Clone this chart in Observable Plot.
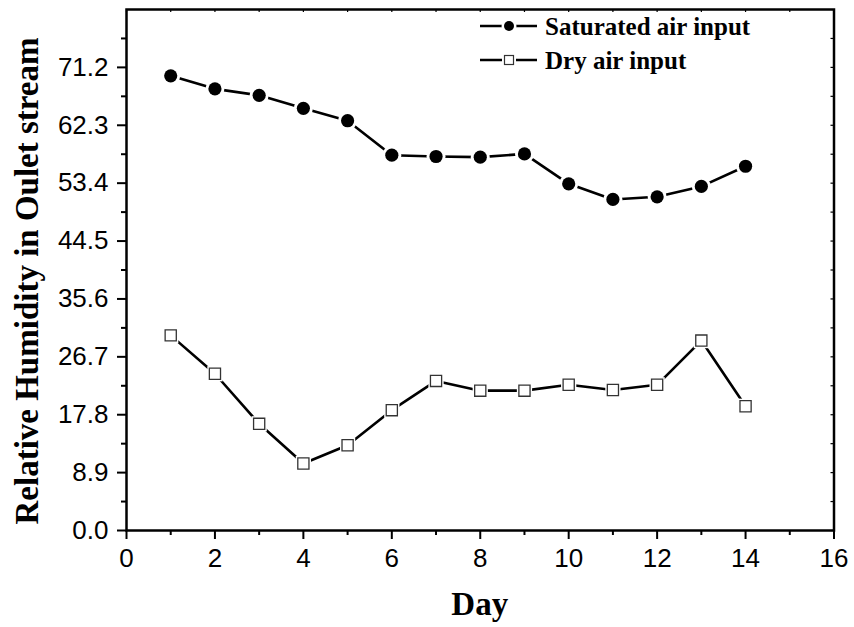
<!DOCTYPE html>
<html>
<head>
<meta charset="utf-8">
<script src="https://cdn.jsdelivr.net/npm/d3@7"></script>
<script src="https://cdn.jsdelivr.net/npm/@observablehq/plot@0.6"></script>
<style>
  body { margin: 0; background: #fff; }
  #chart svg { display: block; }
</style>
</head>
<body>
<div id="chart"></div>
<script>
// Relative humidity of the outlet stream over a 14-day run
const days = [1, 2, 3, 4, 5, 6, 7, 8, 9, 10, 11, 12, 13, 14];
const saturated = [69.9, 67.9, 66.9, 64.9, 63.0, 57.7, 57.5, 57.4, 57.9, 53.3, 50.9, 51.3, 52.9, 56.0];
const dry = [30.0, 24.1, 16.4, 10.3, 13.1, 18.5, 23.0, 21.5, 21.5, 22.4, 21.6, 22.4, 29.2, 19.1];
const seriesNames = ["Saturated air input", "Dry air input"];

// Axis ticks
const xTicks = [0, 2, 4, 6, 8, 10, 12, 14, 16];
const xMinor = [1, 3, 5, 7, 9, 11, 13, 15];
const xAll = [0, 1, 2, 3, 4, 5, 6, 7, 8, 9, 10, 11, 12, 13, 14, 15, 16];
const yTicks = [0, 8.9, 17.8, 26.7, 35.6, 44.5, 53.4, 62.3, 71.2];
const yMinor = [4.45, 13.35, 22.25, 31.15, 40.05, 48.95, 57.85, 66.75, 75.65];
const yDomain = [0, 80.1];

const satRows = days.map((d, i) => ({day: d, rh: saturated[i], series: seriesNames[0]}));
const dryRows = days.map((d, i) => ({day: d, rh: dry[i], series: seriesNames[1]}));

const W = 854, H = 627;
const mL = 126, mR = 20.5, mT = 9, mB = 97;
const frameH = H - mT - mB;
const frameW = W - mL - mR;

const serif = "'Liberation Serif', 'Times New Roman', serif";

const chart = Plot.plot({
  width: W,
  height: H,
  marginLeft: mL,
  marginRight: mR,
  marginTop: mT,
  marginBottom: mB,
  style: {fontFamily: "'Liberation Sans', Arial, sans-serif", fontSize: "26px", color: "#000", background: "#fff"},
  x: {domain: [0, 16]},
  y: {domain: yDomain},
  marks: [
    Plot.axisX({ticks: xTicks, tickSize: 9, tickPadding: 9, strokeWidth: 2, label: null, tickFormat: d => String(d)}),
    Plot.axisX({ticks: xMinor, tickSize: 5, strokeWidth: 2, label: null, tickFormat: () => ""}),
    Plot.axisY({ticks: yTicks, tickSize: 9, tickPadding: 9, strokeWidth: 2, label: null, tickFormat: d => d.toFixed(1)}),
    Plot.axisY({ticks: yMinor, tickSize: 5, strokeWidth: 2, label: null, tickFormat: () => ""}),
    // short inward ticks on the top and right edges
    Plot.tickX(xAll, {x: d => d, insetBottom: frameH - 3, stroke: "#000", strokeWidth: 1.2}),
    Plot.tickY(yTicks.concat(yMinor), {y: d => d, insetLeft: frameW - 3, stroke: "#000", strokeWidth: 1.2}),
    Plot.frame({stroke: "#000", strokeWidth: 2.5}),
    Plot.lineY(satRows, {x: "day", y: "rh", stroke: "#000", strokeWidth: 2.6}),
    Plot.lineY(dryRows, {x: "day", y: "rh", stroke: "#000", strokeWidth: 2.6}),
    // white gaps where the line meets each marker
    Plot.dot(satRows, {x: "day", y: "rh", r: 9.5, fill: "#fff"}),
    Plot.dot(dryRows, {x: "day", y: "rh", symbol: "square", r: 8.6, fill: "#fff"}),
    Plot.dot(satRows, {x: "day", y: "rh", r: 6.6, fill: "#000"}),
    Plot.dot(dryRows, {x: "day", y: "rh", symbol: "square", r: 6.3, fill: "#fff", stroke: "#333", strokeWidth: 1.3})
  ]
});

const svg = d3.select(chart);

// Axis titles
svg.append("text")
  .attr("x", mL + frameW / 2)
  .attr("y", 615)
  .attr("text-anchor", "middle")
  .attr("font-family", serif)
  .attr("font-weight", "bold")
  .attr("font-size", 33)
  .attr("fill", "#000")
  .text("Day");

svg.append("text")
  .attr("transform", "translate(38,281) rotate(-90)")
  .attr("text-anchor", "middle")
  .attr("font-family", serif)
  .attr("font-weight", "bold")
  .attr("font-size", 33)
  .attr("fill", "#000")
  .text("Relative Humidity in Oulet stream");

// Legend
const legend = svg.append("g").attr("transform", "translate(480,0)");
const legendRows = [
  {name: seriesNames[0], y: 26, kind: "circle"},
  {name: seriesNames[1], y: 60, kind: "square"}
];
legendRows.forEach(row => {
  const g = legend.append("g").attr("transform", `translate(0,${row.y})`);
  g.append("line").attr("x1", 0).attr("x2", 57).attr("y1", 0).attr("y2", 0)
    .attr("stroke", "#000").attr("stroke-width", 2.6);
  if (row.kind === "circle") {
    g.append("circle").attr("cx", 29).attr("cy", 0).attr("r", 7.5).attr("fill", "#fff");
    g.append("circle").attr("cx", 29).attr("cy", 0).attr("r", 5).attr("fill", "#000");
  } else {
    g.append("rect").attr("x", 22).attr("y", -7).attr("width", 14).attr("height", 14).attr("fill", "#fff");
    g.append("rect").attr("x", 24.5).attr("y", -4.5).attr("width", 9).attr("height", 9)
      .attr("fill", "#fff").attr("stroke", "#333").attr("stroke-width", 1.2);
  }
  g.append("text").attr("x", 65).attr("y", 0).attr("dy", "0.35em")
    .attr("text-anchor", "start")
    .attr("font-family", serif).attr("font-weight", "bold").attr("font-size", 25)
    .attr("fill", "#000").text(row.name);
});

document.getElementById("chart").appendChild(chart);
</script>
</body>
</html>
